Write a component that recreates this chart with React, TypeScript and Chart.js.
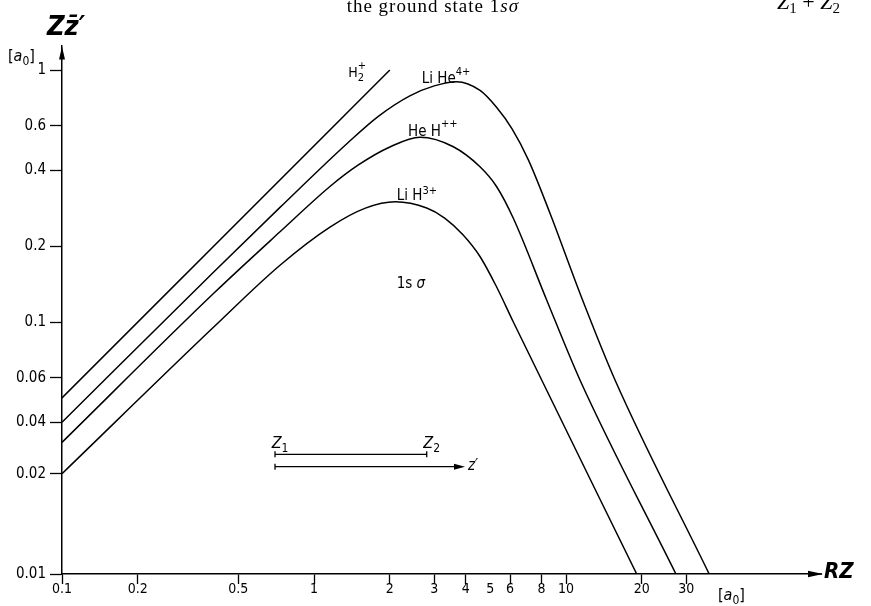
import React, { useEffect, useRef } from 'react';
import { Chart, registerables } from 'chart.js';

Chart.register(...registerables);

// ---- axis ticks ----
const xTickValues = [0.1, 0.2, 0.5, 1, 2, 3, 4, 5, 6, 8, 10, 20, 30];
const xTickLabels = ['0.1', '0.2', '0.5', '1', '2', '3', '4', '5', '6', '8', '10', '20', '30'];
const yTickValues = [0.01, 0.025, 0.04, 0.06, 0.1, 0.2, 0.4, 0.6, 1];
const yTickLabels = ['0.01', '0.02', '0.04', '0.06', '0.1', '0.2', '0.4', '0.6', '1'];

// ---- series (R·Z in a0, Z·z' in a0) ----
const h2R = [0.1, 2.0];
const h2Z = [0.05, 1.0];

const liheR = [0.1, 0.4, 0.733, 1.35, 1.8, 2.4, 3.0, 3.68, 4.56, 5.31, 6.1, 7.09, 8.64, 11.36, 15.65, 37.0];
const liheZ = [0.04, 0.158, 0.285, 0.51, 0.655, 0.79, 0.865, 0.899, 0.83, 0.71, 0.585, 0.44, 0.27, 0.13, 0.0589, 0.01];

const hehR = [0.1, 0.4, 0.733, 1.157, 1.5, 2.0, 2.635, 3.572, 4.557, 5.3, 6.18, 8.38, 11.36, 27.3];
const hehZ = [0.0333, 0.13, 0.228, 0.345, 0.42, 0.495, 0.541, 0.496, 0.413, 0.345, 0.258, 0.1223, 0.0589, 0.01];

const lihR = [0.1, 0.4, 0.733, 1.157, 1.6, 2.1, 2.8, 3.3, 3.9, 4.557, 5.3, 6.18, 19.08];
const lihZ = [0.025, 0.0955, 0.168, 0.238, 0.283, 0.3, 0.2834, 0.2586, 0.222, 0.182, 0.138, 0.1, 0.01];

const SANS = "'DejaVu Sans Condensed', 'DejaVu Sans', sans-serif";
const SERIF = "'Liberation Serif', 'Times New Roman', serif";

type Seg = { t: string; font: string; dy?: number; stay?: boolean };

function drawRich(ctx: CanvasRenderingContext2D, segs: Seg[], x: number, y: number) {
  let cx = x;
  segs.forEach((s) => {
    ctx.font = s.font;
    ctx.fillText(s.t, cx, y + (s.dy || 0));
    if (!s.stay) cx += ctx.measureText(s.t).width;
  });
}

const pairs = (xs: number[], ys: number[]) => xs.map((v, i) => ({ x: v, y: ys[i] }));

const annotPlugin = {
  id: 'annot',
  afterDraw(chart: any) {
    const { ctx } = chart;
    const xs = chart.scales.x;
    const ys = chart.scales.y;
    const px = (v: number) => xs.getPixelForValue(v);
    const py = (v: number) => ys.getPixelForValue(v);
    ctx.save();
    ctx.fillStyle = '#000';
    ctx.strokeStyle = '#000';
    ctx.textBaseline = 'alphabetic';
    ctx.textAlign = 'left';

    // x-axis arrow
    const ax = xs.right;
    const ay = ys.bottom;
    ctx.lineWidth = 1.5;
    ctx.beginPath();
    ctx.moveTo(ax - 2, ay);
    ctx.lineTo(ax + 4, ay);
    ctx.stroke();
    ctx.beginPath();
    ctx.moveTo(ax + 5, ay);
    ctx.lineTo(ax - 10, ay - 3.2);
    ctx.lineTo(ax - 10, ay + 3.2);
    ctx.closePath();
    ctx.fill();

    // y-axis arrow
    const bx = xs.left;
    const by = ys.top;
    ctx.beginPath();
    ctx.moveTo(bx, by + 1);
    ctx.lineTo(bx - 3, by + 14);
    ctx.lineTo(bx + 3, by + 14);
    ctx.closePath();
    ctx.fill();

    // axis titles
    drawRich(ctx, [{ t: 'Zz\u0304\u2032', font: `italic bold 27px ${SANS}` }], 47, 35);
    drawRich(ctx, [
      { t: '[', font: `16px ${SANS}` },
      { t: 'a', font: `italic 16px ${SANS}` },
      { t: '0', font: `12px ${SANS}`, dy: 4 },
      { t: ']', font: `16px ${SANS}` },
    ], 8, 61);
    drawRich(ctx, [{ t: 'RZ', font: `italic bold 22px ${SANS}` }], 824, 578);
    drawRich(ctx, [
      { t: '[', font: `16px ${SANS}` },
      { t: 'a', font: `italic 16px ${SANS}` },
      { t: '0', font: `12px ${SANS}`, dy: 4 },
      { t: ']', font: `16px ${SANS}` },
    ], 718, 600);

    // cropped page text at the top
    ctx.save();
    try { (ctx as any).letterSpacing = '1px'; } catch (e) { /* ignore */ }
    ctx.font = `19px ${SERIF}`;
    const w1 = ctx.measureText('the ground state 1').width;
    ctx.font = `italic 19px ${SERIF}`;
    const w2 = ctx.measureText('s\u03c3').width;
    drawRich(ctx, [
      { t: 'the ground state 1', font: `19px ${SERIF}` },
      { t: 's\u03c3', font: `italic 19px ${SERIF}` },
    ], 519 - w1 - w2, 12);
    ctx.restore();
    drawRich(ctx, [
      { t: 'Z', font: `italic 22px ${SERIF}` },
      { t: '1', font: `15px ${SERIF}`, dy: 4 },
      { t: ' + ', font: `22px ${SERIF}` },
      { t: 'Z', font: `italic 22px ${SERIF}` },
      { t: '2', font: `15px ${SERIF}`, dy: 4 },
    ], 777, 9);

    // curve labels
    const big = `15px ${SANS}`;
    const sm = `11px ${SANS}`;
    drawRich(ctx, [
      { t: 'H', font: `14px ${SANS}` },
      { t: '+', font: sm, dy: -8, stay: true },
      { t: '2', font: sm, dy: 4 },
    ], px(1.368), py(0.9406));
    drawRich(ctx, [
      { t: 'Li He', font: big },
      { t: '4+', font: sm, dy: -8 },
    ], px(2.676), py(0.8905));
    drawRich(ctx, [
      { t: 'He H', font: big },
      { t: '++', font: sm, dy: -9 },
    ], px(2.361), py(0.5471));
    drawRich(ctx, [
      { t: 'Li H', font: big },
      { t: '3+', font: sm, dy: -6 },
    ], px(2.129), py(0.3049));
    drawRich(ctx, [
      { t: '1s ', font: big },
      { t: '\u03c3', font: `italic ${big}` },
    ], px(2.129), py(0.1361));

    // inset: Z1 — Z2 and z' arrow
    const x1 = px(0.7003);
    const x2 = px(2.801);
    const x3 = px(3.974);
    const yb = py(0.02985);
    const ya = py(0.02666);
    ctx.lineWidth = 1.3;
    ctx.beginPath();
    ctx.moveTo(x1, yb);
    ctx.lineTo(x2, yb);
    ctx.moveTo(x1, yb - 3);
    ctx.lineTo(x1, yb + 3);
    ctx.moveTo(x2, yb - 3);
    ctx.lineTo(x2, yb + 3);
    ctx.moveTo(x1, ya);
    ctx.lineTo(x3 - 8, ya);
    ctx.moveTo(x1, ya - 3);
    ctx.lineTo(x1, ya + 3);
    ctx.stroke();
    ctx.beginPath();
    ctx.moveTo(x3, ya);
    ctx.lineTo(x3 - 11, ya - 3);
    ctx.lineTo(x3 - 11, ya + 3);
    ctx.closePath();
    ctx.fill();
    drawRich(ctx, [
      { t: 'Z', font: `italic 16px ${SANS}` },
      { t: '1', font: `12px ${SANS}`, dy: 4 },
    ], px(0.6795), py(0.03162));
    drawRich(ctx, [
      { t: 'Z', font: `italic 16px ${SANS}` },
      { t: '2', font: `12px ${SANS}`, dy: 4 },
    ], px(2.716), py(0.03162));
    drawRich(ctx, [{ t: 'z\u2032', font: `italic 15px ${SANS}` }], px(4.084), py(0.02587));

    ctx.restore();
  },
};

export default function App() {
  const ref = useRef<HTMLCanvasElement | null>(null);

  useEffect(() => {
    if (!ref.current) return;
    const lineDs = (label: string, xs: number[], ysv: number[], straight = false) => ({
      label,
      data: pairs(xs, ysv),
      borderColor: '#000',
      borderWidth: 1.5,
      pointRadius: 0,
      fill: false,
      tension: 0,
      cubicInterpolationMode: straight ? 'default' : 'monotone',
    });
    const chart = new Chart(ref.current, {
      type: 'line',
      data: {
        datasets: [
          lineDs('H2+', h2R, h2Z, true),
          lineDs('LiHe4+', liheR, liheZ),
          lineDs('HeH++', hehR, hehZ),
          lineDs('LiH3+', lihR, lihZ),
        ] as any,
      },
      options: {
        animation: false,
        responsive: false,
        maintainAspectRatio: false,
        devicePixelRatio: 1,
        layout: { padding: { left: 0, right: 53, top: 45.6, bottom: 0 } },
        plugins: { legend: { display: false }, tooltip: { enabled: false }, title: { display: false } },
        scales: {
          x: {
            type: 'logarithmic',
            min: 0.1,
            max: 100,
            afterBuildTicks: (s: any) => {
              s.ticks = xTickValues.map((v) => ({ value: v }));
            },
            afterFit: (s: any) => {
              s.height = 32;
            },
            ticks: {
              autoSkip: false,
              maxRotation: 0,
              minRotation: 0,
              color: '#000',
              padding: -3,
              font: { family: SANS, size: 14 },
              callback: (_v: any, i: number) => xTickLabels[i],
            },
            grid: {
              drawOnChartArea: false,
              drawTicks: true,
              tickLength: 10,
              tickWidth: 1.3,
              tickColor: (c: any) => (c.tick && c.tick.value === 5 ? 'rgba(0,0,0,0)' : '#000'),
            },
            border: { display: true, color: '#000', width: 1.5 },
          },
          y: {
            type: 'logarithmic',
            min: 0.01,
            max: 1.25,
            afterBuildTicks: (s: any) => {
              s.ticks = yTickValues.map((v) => ({ value: v }));
            },
            afterFit: (s: any) => {
              s.width = 62;
            },
            ticks: {
              autoSkip: false,
              color: '#000',
              padding: 4,
              font: { family: SANS, size: 15 },
              callback: (_v: any, i: number) => yTickLabels[i],
            },
            grid: {
              drawOnChartArea: false,
              drawTicks: true,
              tickLength: 12,
              tickWidth: 1.3,
              tickColor: '#000',
            },
            border: { display: true, color: '#000', width: 1.5 },
          },
        },
      } as any,
      plugins: [annotPlugin],
    });
    return () => chart.destroy();
  }, []);

  return (
    <div style={{ position: 'absolute', left: 0, top: 0, width: 871, height: 606, background: '#fff' }}>
      <canvas ref={ref} width={871} height={606} style={{ display: 'block', width: 871, height: 606 }} />
    </div>
  );
}
